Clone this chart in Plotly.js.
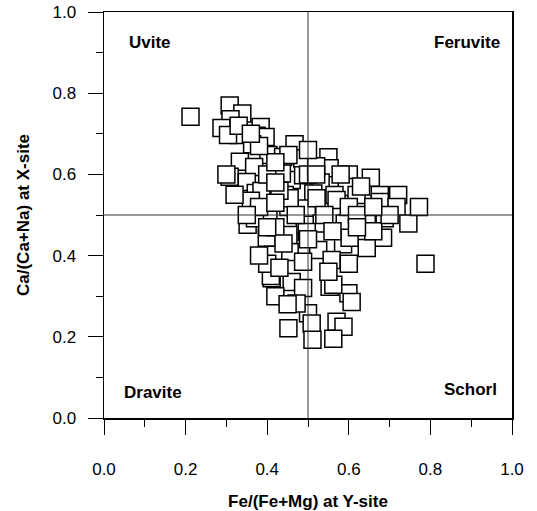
<!DOCTYPE html>
<html>
<head>
<meta charset="utf-8">
<script src="https://cdn.plot.ly/plotly-3.0.1.min.js"></script>
<style>html,body{margin:0;padding:0;background:#fff;}#chart{width:537px;height:511px;}</style>
</head>
<body>
<div id="chart"></div>
<script>
// Fe/(Fe+Mg) at Y-site
var feRatio = [
0.212,0.308,0.339,0.310,0.288,0.384,0.329,0.374,0.396,0.363,0.467,0.304,0.403,0.333,0.439,0.368,0.308,0.350,0.372,0.386,0.460,0.436,0.443,
0.486,0.550,0.553,0.600,0.654,0.488,0.531,0.595,0.676,0.721,0.452,0.513,0.565,0.619,
0.570,0.676,0.717,0.452,0.497,0.521,0.688,0.746,0.590,0.533,0.492,0.644,0.684,0.644,0.586,0.602,0.525,0.455,0.558,0.488,0.497,0.452,0.460,0.488,0.553,0.599,
0.411,0.607,0.562,0.500,0.452,0.509,0.570,0.587,0.511,0.562,0.472,
0.360,0.403,0.352,0.399,0.415,0.409,0.370,0.455,
0.772,0.788,
0.420,0.430,0.500,0.520,0.600,0.620,0.660,0.620,0.380,0.420,0.470,0.540,0.560,0.500,0.440,0.400,0.430,0.380,0.350,0.320,0.300,0.400,0.420,0.500,0.380,0.330,0.360,0.420,0.520,0.580,0.630,0.700,0.660,0.600,0.550,0.420,0.450,0.400
];
// Ca/(Ca+Na) at X-site
var caRatio = [
0.742,0.770,0.750,0.736,0.714,0.717,0.697,0.695,0.692,0.674,0.674,0.697,0.648,0.631,0.643,0.618,0.594,0.581,0.554,0.559,0.586,0.602,0.549,
0.639,0.642,0.615,0.600,0.592,0.598,0.580,0.569,0.549,0.549,0.648,0.553,0.549,0.549,
0.537,0.532,0.520,0.520,0.516,0.541,0.492,0.479,0.479,0.479,0.476,0.492,0.444,0.419,0.428,0.444,0.414,0.409,0.389,0.385,0.458,0.451,0.335,0.320,0.323,0.307,
0.344,0.286,0.328,0.258,0.221,0.233,0.237,0.225,0.193,0.195,0.282,
0.535,0.504,0.476,0.444,0.402,0.350,0.492,0.541,
0.520,0.380,
0.470,0.560,0.600,0.620,0.520,0.500,0.460,0.470,0.520,0.530,0.500,0.500,0.460,0.440,0.430,0.380,0.370,0.400,0.500,0.550,0.600,0.600,0.630,0.660,0.670,0.720,0.700,0.580,0.600,0.600,0.570,0.500,0.520,0.380,0.360,0.300,0.280,0.470
];
var xTickVals = [0, 0.2, 0.4, 0.6, 0.8, 1.0];
var xTickText = ['0.0', '0.2', '0.4', '0.6', '0.8', '1.0'];
var yTickVals = [0, 0.2, 0.4, 0.6, 0.8, 1.0];
var yTickText = ['0.0', '0.2', '0.4', '0.6', '0.8', '1.0'];
var fieldNames = ['Uvite', 'Feruvite', 'Dravite', 'Schorl'];
var xTitle = 'Fe/(Fe+Mg) at Y-site';
var yTitle = 'Ca/(Ca+Na) at X-site';

var FONT = 'Liberation Sans, Arial, Helvetica, sans-serif';

var trace = {
  x: feRatio, y: caRatio, type: 'scatter', mode: 'markers',
  marker: {symbol: 'square', size: 17, color: '#ffffff', line: {color: '#000000', width: 1.5}},
  hoverinfo: 'x+y', showlegend: false
};

var axisCommon = {
  range: [0, 1], showgrid: false, zeroline: false, showline: true, mirror: true,
  linecolor: '#000', linewidth: 1.5, ticks: 'outside', ticklen: 15, tickwidth: 1, tickcolor: '#000',
  tickmode: 'array', tickfont: {family: FONT, size: 17, color: '#000'},
  minor: {dtick: 0.1, ticks: 'outside', ticklen: 7, tickwidth: 1, tickcolor: '#000', showgrid: false}
};

var layout = {
  width: 537, height: 511,
  margin: {l: 104, r: 25, t: 12, b: 93},
  paper_bgcolor: '#fff', plot_bgcolor: '#fff',
  font: {family: FONT, color: '#000'},
  xaxis: Object.assign({}, axisCommon, {
    tickvals: xTickVals, ticktext: xTickText, ticklabelstandoff: 20,
    title: {text: '<b>' + xTitle + '</b>', font: {family: FONT, size: 17, color: '#000'}, standoff: 20}
  }),
  yaxis: Object.assign({}, axisCommon, {
    tickvals: yTickVals, ticktext: yTickText, ticklabelstandoff: 8,
    title: {text: '<b>' + yTitle + '</b>', font: {family: FONT, size: 17, color: '#000'}, standoff: 18}
  }),
  shapes: [
    {type: 'line', xref: 'x', yref: 'paper', x0: 0.5, x1: 0.5, y0: 0, y1: 1, layer: 'above', line: {color: '#333', width: 1}},
    {type: 'line', xref: 'paper', yref: 'y', x0: 0, x1: 1, y0: 0.5, y1: 0.5, layer: 'above', line: {color: '#333', width: 1}}
  ],
  annotations: [
    {text: '<b>' + fieldNames[0] + '</b>', xref: 'paper', yref: 'paper', x: 0.056, y: 0.926, xanchor: 'left', yanchor: 'middle', showarrow: false, font: {family: FONT, size: 17, color: '#000'}},
    {text: '<b>' + fieldNames[1] + '</b>', xref: 'paper', yref: 'paper', x: 0.975, y: 0.926, xanchor: 'right', yanchor: 'middle', showarrow: false, font: {family: FONT, size: 17, color: '#000'}},
    {text: '<b>' + fieldNames[2] + '</b>', xref: 'paper', yref: 'paper', x: 0.044, y: 0.062, xanchor: 'left', yanchor: 'middle', showarrow: false, font: {family: FONT, size: 17, color: '#000'}},
    {text: '<b>' + fieldNames[3] + '</b>', xref: 'paper', yref: 'paper', x: 0.968, y: 0.069, xanchor: 'right', yanchor: 'middle', showarrow: false, font: {family: FONT, size: 17, color: '#000'}}
  ]
};

Plotly.newPlot('chart', [trace], layout, {displayModeBar: false, staticPlot: true});
</script>
</body>
</html>
